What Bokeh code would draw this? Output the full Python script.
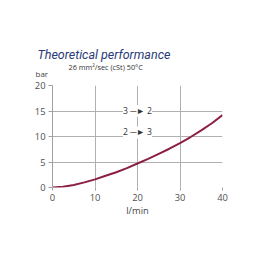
from bokeh.plotting import figure
from bokeh.models import Label, Range1d, FixedTicker
from bokeh.layouts import column
from bokeh.embed import file_html
from bokeh.resources import INLINE

flow = [0, 2.5, 5, 7.5, 10, 12.5, 15, 17.5, 20, 22.5, 25, 27.5, 30, 32.5, 35, 37.5, 40]
pressure = [0, 0.15, 0.5, 1.0, 1.6, 2.3, 3.0, 3.8, 4.7, 5.6, 6.6, 7.6, 8.7, 9.9, 11.2, 12.6, 14.2]
x_ticks = [0, 10, 20, 30, 40]
y_ticks = [0, 5, 10, 15, 20]

title_text = "Theoretical performance"
subtitle_text = "26 mm²/sec (cSt) 50°C"
y_label = "bar"
x_label = "l/min"
label_a = "3 ─► 2"
label_b = "2 ─► 3"

# header with titles (pixel-like coordinates, y measured from top)
h = figure(width=259, height=80, output_backend="svg", toolbar_location=None,
           x_range=Range1d(0, 259), y_range=Range1d(80, 0),
           x_axis_type=None, y_axis_type=None,
           min_border_left=0, min_border_right=0, min_border_top=0, min_border_bottom=0)
h.frame_align = False
h.outline_line_color = None
h.grid.visible = False
h.add_layout(Label(x=37, y=54, text=title_text, text_font="Roboto", text_font_style="italic",
                   text_font_size="12.5px", text_color="#2a3a78", text_baseline="middle"))
h.add_layout(Label(x=68, y=66, text=subtitle_text, text_font="Open Sans",
                   text_font_size="7.3px", text_color="#333333", text_baseline="middle"))
h.add_layout(Label(x=35, y=73, text=y_label, text_font="Open Sans",
                   text_font_size="8px", text_color="#444444", text_baseline="middle"))

p = figure(width=259, height=179, output_backend="svg", toolbar_location=None,
           x_range=Range1d(0, 40), y_range=Range1d(0, 20),
           min_border_left=52, min_border_right=37, min_border_top=5, min_border_bottom=72)
p.frame_align = False
p.outline_line_color = None

for ax in (p.xaxis[0], p.yaxis[0]):
    ax.axis_line_color = "#a0a0a0"
    ax.major_tick_line_color = "#a0a0a0"
    ax.minor_tick_line_color = None
    ax.major_tick_out = 4
    ax.major_tick_in = 0
    ax.major_label_text_font = "Open Sans"
    ax.major_label_text_font_size = "7pt"
    ax.major_label_text_color = "#505050"
    ax.major_label_standoff = 3
p.xaxis.ticker = FixedTicker(ticks=x_ticks)
p.yaxis.ticker = FixedTicker(ticks=y_ticks)
p.xaxis.axis_line_color = None
p.xaxis.major_tick_out = 3
p.xaxis.axis_label = x_label
p.xaxis.axis_label_text_font = "Open Sans"
p.xaxis.axis_label_text_font_style = "normal"
p.xaxis.axis_label_text_font_size = "7pt"
p.xaxis.axis_label_text_color = "#444444"
p.xaxis.axis_label_standoff = 0

p.xgrid.ticker = FixedTicker(ticks=x_ticks)
p.ygrid.ticker = FixedTicker(ticks=y_ticks)
p.grid.grid_line_color = "#b0b0b0"
p.grid.grid_line_width = 1

p.line(flow, pressure, line_color="#8c1f45", line_width=2)

p.add_layout(Label(x=20, y=15, text=label_a, text_align="center", text_baseline="middle",
                   text_font="Open Sans", text_font_size="6.5pt", text_color="#333333",
                   background_fill_color="white"))
p.add_layout(Label(x=20, y=10.8, text=label_b, text_align="center", text_baseline="middle",
                   text_font="Open Sans", text_font_size="6.5pt", text_color="#333333",
                   background_fill_color="white"))

layout = column(h, p, spacing=0)
open("out.html", "w").write(file_html(layout, INLINE))
